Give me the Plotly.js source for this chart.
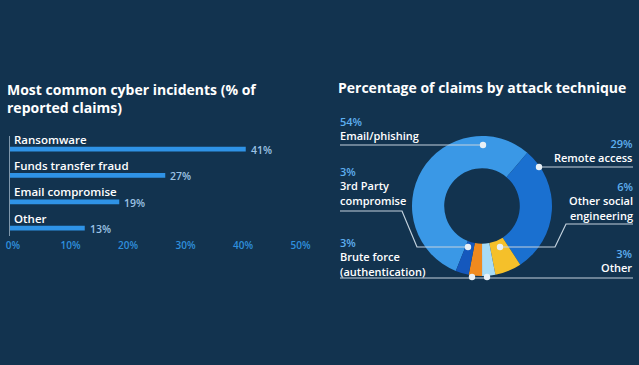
<!DOCTYPE html>
<html>
<head>
<meta charset="utf-8">
<script src="https://cdn.plot.ly/plotly-3.0.1.min.js"></script>
<style>html,body{margin:0;padding:0;background:#12334f;}#chart{width:639px;height:365px;}</style>
</head>
<body>
<div id="chart"></div>
<script>
// ---- Data ----
var barCategories = ["Ransomware", "Funds transfer fraud", "Email compromise", "Other"];
var barValues = [41, 27, 19, 13];
var barTickVals = [0, 10, 20, 30, 40, 50];
var barTickText = ["0%", "10%", "20%", "30%", "40%", "50%"];

var pieLabels = ["Email/phishing", "Remote access", "Other social engineering", "Other", "Brute force (authentication)", "3rd Party compromise"];
var pieValues = [54, 29, 6, 3, 3, 3];
var pieColors = ["#3a98e6", "#1a70d0", "#f5c02a", "#a8dcf6", "#f08a1e", "#1558bd"];

// ---- Helpers ----
var W = 639, H = 365;
function px(x) { return x / W; }
function py(y) { return 1 - y / H; }

var BG = "#12334f";
var FONT = "Open Sans, sans-serif";
var LINE = "#c3d2de";

var annotations = [];
var shapes = [];

// Titles
annotations.push({xref:"paper", yref:"paper", x:px(5), y:py(98), xanchor:"left", yanchor:"middle", align:"left",
  text:"Most common cyber incidents (% of<br>reported claims)", showarrow:false,
  font:{family:FONT, size:14, color:"#ffffff", weight:700}});
annotations.push({xref:"paper", yref:"paper", x:px(336), y:py(87), xanchor:"left", yanchor:"middle",
  text:"Percentage of claims by attack technique", showarrow:false,
  font:{family:FONT, size:14, color:"#ffffff", weight:700}});

// Bar labels and values
barCategories.forEach(function (c, i) {
  annotations.push({xref:"x", yref:"y", x:0, y:c, xanchor:"left", yanchor:"middle", xshift:2, yshift:10,
    text:c, showarrow:false, font:{family:FONT, size:11.5, color:"#ffffff", weight:600}});
  annotations.push({xref:"x", yref:"y", x:barValues[i], y:c, xanchor:"left", yanchor:"middle", xshift:3, yshift:-1,
    text:barValues[i] + "%", showarrow:false, font:{family:FONT, size:10.5, color:"#9cc2e4", weight:600}});
});

// Donut labels
var PCT = "#5eaff0";
function lab(x, y, pct, name, anchor) {
  annotations.push({xref:"paper", yref:"paper", x:px(x), y:py(y), xanchor:anchor, yanchor:"top", align:anchor,
    text:'<span style="color:' + PCT + '">' + pct + '%</span><br>' + name, showarrow:false,
    font:{family:FONT, size:11, color:"#ffffff", weight:600}});
}
lab(338, 111.5, pieValues[0], pieLabels[0], "left");
lab(635, 133.5, pieValues[1], pieLabels[1], "right");
lab(635, 177, pieValues[2], "Other social<br>engineering", "right");
lab(338, 162, pieValues[5], "3rd Party<br>compromise", "left");
lab(338, 232.5, pieValues[4], "Brute force<br>(authentication)", "left");
lab(635, 243.5, pieValues[3], pieLabels[3], "right");

// Leader lines
function path(pts) {
  var d = pts.map(function (p, i) { return (i ? "L" : "M") + px(p[0]) + "," + py(p[1]); }).join(" ");
  shapes.push({type:"path", xref:"paper", yref:"paper", path:d, line:{color:LINE, width:1.2}, layer:"above"});
}
function dot(x, y) {
  var r = 3.2;
  shapes.push({type:"circle", xref:"paper", yref:"paper", x0:px(x - r), x1:px(x + r), y0:py(y + r), y1:py(y - r),
    fillcolor:"#e8f0f6", line:{width:0}, layer:"above"});
}
path([[340,145],[483,145]]); dot(483,145);
path([[539,167],[633,167]]); dot(539,167);
path([[500,247],[555,247],[566,224],[633,224]]); dot(500,247);
path([[340,211],[402,211],[417,247],[468,247]]); dot(468,247);
path([[340,278],[633,278]]); dot(472,277); dot(487,277);

var data = [
  {type:"bar", orientation:"h", x:barValues, y:barCategories, marker:{color:"#2f93e6"}, width:0.18,
   hoverinfo:"skip", xaxis:"x", yaxis:"y"},
  {type:"pie", labels:pieLabels, values:pieValues, sort:false, direction:"clockwise", rotation:202,
   hole:0.54, textinfo:"none", marker:{colors:pieColors, line:{width:0}}, showlegend:false,
   domain:{x:[px(412), px(552)], y:[py(276), py(136)]}, hoverinfo:"skip"}
];

var layout = {
  width:W, height:H, margin:{l:0, r:0, t:0, b:0},
  paper_bgcolor:BG, plot_bgcolor:BG, showlegend:false,
  xaxis:{domain:[px(10), px(297.5)], range:[0, 50], tickvals:barTickVals, ticktext:barTickText,
    showgrid:false, zeroline:false, showline:false, ticks:"", fixedrange:true,
    tickfont:{family:FONT, size:10, color:"#2f8fdc", weight:600}, anchor:"y", ticklabelstandoff:2, ticklabelshift:3},
  yaxis:{domain:[py(236), py(136)], type:"category", range:[3.3, -0.5], showticklabels:false,
    showgrid:false, zeroline:false, showline:true, linecolor:"#7f97ab", linewidth:1, ticks:"", fixedrange:true},
  annotations:annotations, shapes:shapes
};

Plotly.newPlot("chart", data, layout, {displayModeBar:false, staticPlot:true});
</script>
</body>
</html>
